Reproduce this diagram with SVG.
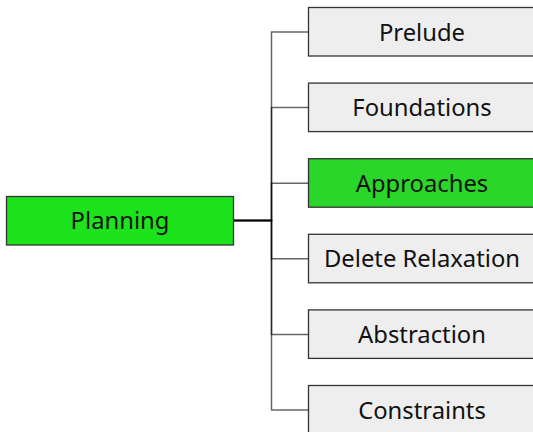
<svg xmlns="http://www.w3.org/2000/svg" width="533" height="432" viewBox="0 0 533 432">
<style>
.box{stroke:#333;stroke-width:1.3}
.n{fill:#eeeeee}
.g1{fill:#1ce31c}
.g2{fill:#29d629}
.c{fill:none;stroke:#000;stroke-opacity:0.6;stroke-width:1.5}
text{font-family:"Noto Sans","Open Sans",sans-serif;font-size:23.8px;fill:#111;text-anchor:middle;dominant-baseline:central}
</style>
<rect width="533" height="432" fill="#fff"/>
<g id="connectors">
<path class="c" d="M233,220.5 H271.5 V32 H309"/>
<path class="c" d="M233,220.5 H271.5 V107.6 H309"/>
<path class="c" d="M233,220.5 H271.5 V183.2 H309"/>
<path class="c" d="M233,220.5 H271.5 V258.8 H309"/>
<path class="c" d="M233,220.5 H271.5 V334.4 H309"/>
<path class="c" d="M233,220.5 H271.5 V410 H309"/>
</g>
<g id="planning"><rect class="box g1" x="6.5" y="196.5" width="227" height="48.5"/><text x="120" y="219.5">Planning</text></g>
<g id="prelude"><rect class="box n" x="308.5" y="7.5" width="227" height="48.5"/><text x="422" y="31.5">Prelude</text></g>
<g id="foundations"><rect class="box n" x="308.5" y="83.1" width="227" height="48.5"/><text x="422" y="107.1">Foundations</text></g>
<g id="approaches"><rect class="box g2" x="308.5" y="158.7" width="227" height="48.5"/><text x="422" y="182.7">Approaches</text></g>
<g id="delete-relaxation"><rect class="box n" x="308.5" y="234.3" width="227" height="48.5"/><text x="422" y="258.3">Delete Relaxation</text></g>
<g id="abstraction"><rect class="box n" x="308.5" y="309.9" width="227" height="48.5"/><text x="422" y="333.9">Abstraction</text></g>
<g id="constraints"><rect class="box n" x="308.5" y="385.5" width="227" height="48.5"/><text x="422" y="409.5">Constraints</text></g>
</svg>
